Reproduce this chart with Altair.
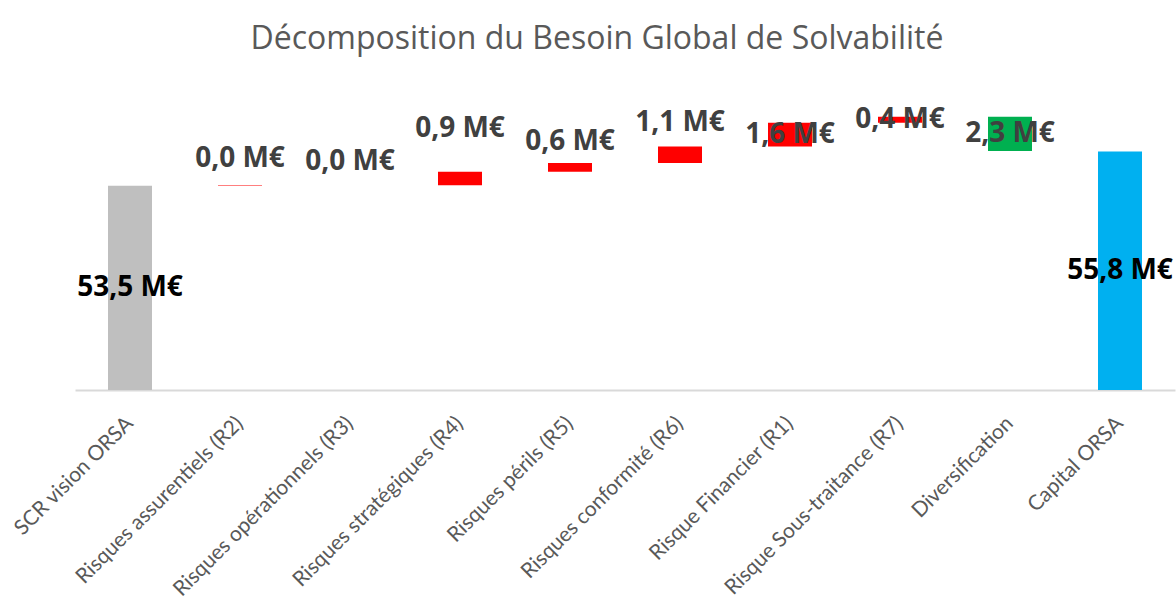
import altair as alt
import pandas as pd

# Waterfall: starting SCR, incremental risk add-ons, diversification, final capital
categories = [
    "SCR vision ORSA",
    "Risques assurentiels (R2)",
    "Risques opérationnels (R3)",
    "Risques stratégiques (R4)",
    "Risques périls (R5)",
    "Risques conformité (R6)",
    "Risque Financier (R1)",
    "Risque Sous-traitance (R7)",
    "Diversification",
    "Capital ORSA",
]
start_total = 53.5                      # M€
steps = [0.04, 0.0, 0.9, 0.6, 1.1, 1.6, 0.4, -2.3]   # M€
end_total = 55.8                        # M€

# pixel shift of each value label relative to the middle of its bar
label_lift = [0, -27, -23, -50, -25, -32, 0, 0, 0, 0]

AXIS_MIN = 39.8
AXIS_MAX = 60.0


def fmt(v):
    return f"{abs(v):.1f}".replace(".", ",") + " M€"


rows = []
rows.append(dict(cat=categories[0], lo=AXIS_MIN, hi=start_total,
                 kind="total_start", label=fmt(start_total), txt="total"))
level = start_total
for name, d in zip(categories[1:-1], steps):
    new = level + d
    kind = "up" if d >= 0 else "down"
    rows.append(dict(cat=name, lo=min(level, new), hi=max(level, new),
                     kind=kind, label=fmt(d), txt="step"))
    level = new
rows.append(dict(cat=categories[-1], lo=AXIS_MIN, hi=end_total,
                 kind="total_end", label=fmt(end_total), txt="total"))

df = pd.DataFrame(rows)
df["mid"] = (df["lo"] + df["hi"]) / 2
df["lift"] = label_lift

x_scale = alt.Scale(paddingInner=0.6, paddingOuter=0.3)
y_scale = alt.Scale(domain=[AXIS_MIN, AXIS_MAX], zero=False, nice=False)

x_enc = alt.X(
    "cat:N",
    sort=categories,
    title=None,
    scale=x_scale,
    axis=alt.Axis(
        labelAngle=-45,
        labelAlign="right",
        labelBaseline="middle",
        labelPadding=30,
        labelFont="Lato",
        labelFontSize=21,
        labelColor="#595959",
        labelLimit=400,
        ticks=False,
        domainColor="#D9D9D9",
        domainWidth=2,
        grid=False,
    ),
)

bars = alt.Chart(df).mark_bar().encode(
    x=x_enc,
    y=alt.Y("lo:Q", scale=y_scale, axis=None),
    y2="hi:Q",
    color=alt.Color(
        "kind:N",
        scale=alt.Scale(
            domain=["total_start", "up", "down", "total_end"],
            range=["#BFBFBF", "#FF0000", "#00B050", "#00B0F0"],
        ),
        legend=None,
    ),
)

# one text layer per label shift
label_layers = []
for lift in sorted(set(label_lift)):
    label_layers.append(
        alt.Chart(df)
        .transform_filter(alt.datum.lift == lift)
        .mark_text(
            font="Open Sans", fontWeight="bold", fontSize=28,
            baseline="middle", align="center", dy=lift,
        )
        .encode(
            x=alt.X("cat:N", sort=categories, scale=x_scale),
            y=alt.Y("mid:Q", scale=y_scale),
            text="label:N",
            color=alt.Color(
                "txt:N",
                scale=alt.Scale(domain=["total", "step"], range=["#000000", "#404040"]),
                legend=None,
            ),
        )
    )

chart = (
    alt.layer(bars, *label_layers)
    .properties(
        width=1100,
        height=301,
        background="white",
        autosize=alt.AutoSizeParams(type="none"),
        padding={"left": 75, "top": 89, "right": 1, "bottom": 214},
        title=alt.TitleParams(
            "Décomposition du Besoin Global de Solvabilité",
            font="Open Sans",
            fontSize=32,
            fontWeight="normal",
            color="#595959",
            anchor="middle",
            dx=-28,
            offset=8,
            baseline="alphabetic",
        ),
    )
    .resolve_scale(color="independent")
    .configure_view(strokeWidth=0, stroke="transparent")
)

chart.save("out.html", embed_options={"renderer": "svg", "actions": False})
